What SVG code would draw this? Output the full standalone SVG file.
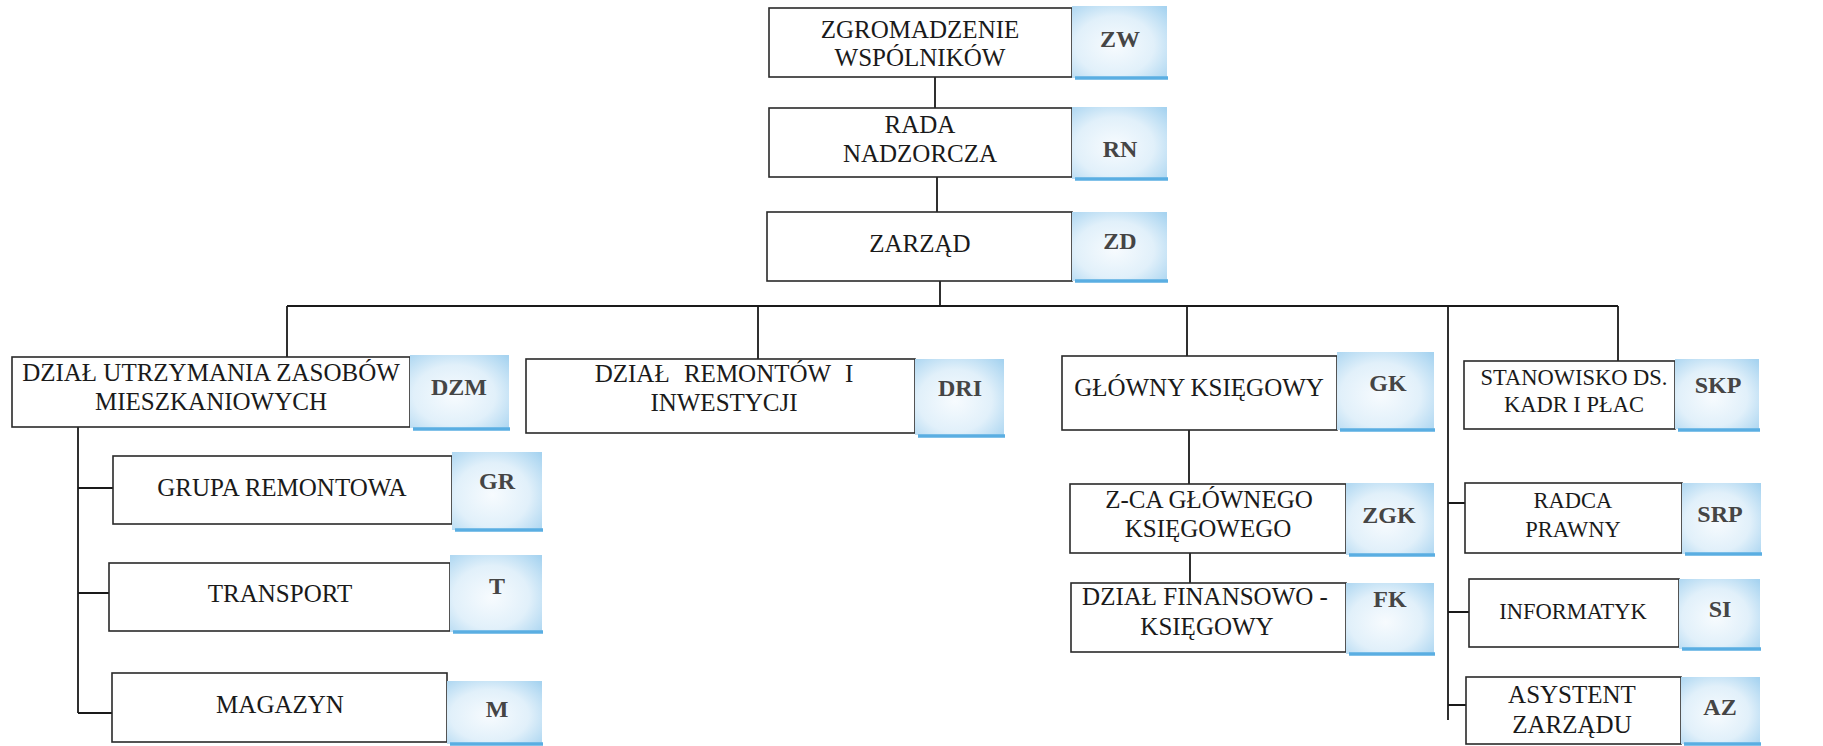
<svg xmlns="http://www.w3.org/2000/svg" width="1823" height="746" viewBox="0 0 1823 746">
<style>
.box{fill:#fff;stroke:#2a2a2a;stroke-width:1.6}
.code{fill:url(#cg)}
.bar{stroke:#5aaee2;stroke-width:3.5}
.t{font-family:"Liberation Serif","Times New Roman",serif;font-size:25px;fill:#1a1a1a;text-anchor:middle}
.s{font-size:22.5px}
.c{font-family:"Liberation Serif","Times New Roman",serif;font-size:24px;font-weight:bold;fill:#454545;text-anchor:middle}
.ln{stroke:#1a1a1a;stroke-width:1.8;fill:none}
</style>
<defs>
<radialGradient id="cg" cx="0.45" cy="0.55" r="0.75">
<stop offset="0" stop-color="#f7fbfe"/>
<stop offset="0.55" stop-color="#e1f0fa"/>
<stop offset="1" stop-color="#a6d3f0"/>
</radialGradient>
</defs>
<rect width="1823" height="746" fill="#fff"/>

<g id="connectors">
<path class="ln" d="M935 77V108M937 177V212M940 281V306"/>
<path class="ln" d="M287 306H1618"/>
<path class="ln" d="M287 306V357M758 306V359M1187 306V356M1618 306V361M1448 306V720"/>
<path class="ln" d="M78 427V713M78 488H113M78 593H109M78 713H112"/>
<path class="ln" d="M1189 430V484M1190 553V583"/>
<path class="ln" d="M1448 503H1465M1448 612H1469M1448 705H1466"/>
</g>

<g id="ZW">
<rect class="box" x="769" y="8" width="303" height="69"/>
<rect class="code" x="1072" y="6" width="95" height="72"/>
<line class="bar" x1="1075" y1="78" x2="1168" y2="78"/>
<text class="t" x="920" y="38">ZGROMADZENIE</text>
<text class="t" x="920" y="66">WSPÓLNIKÓW</text>
<text class="c" x="1120" y="47">ZW</text>
</g>

<g id="RN">
<rect class="box" x="769" y="108" width="303" height="69"/>
<rect class="code" x="1072" y="107" width="95" height="72"/>
<line class="bar" x1="1075" y1="179" x2="1168" y2="179"/>
<text class="t" x="920" y="133">RADA</text>
<text class="t" x="920" y="162">NADZORCZA</text>
<text class="c" x="1120" y="157">RN</text>
</g>

<g id="ZD">
<rect class="box" x="767" y="212" width="305" height="69"/>
<rect class="code" x="1072" y="212" width="95" height="69"/>
<line class="bar" x1="1075" y1="281" x2="1168" y2="281"/>
<text class="t" x="920" y="252">ZARZĄD</text>
<text class="c" x="1120" y="249">ZD</text>
</g>

<g id="DZM">
<rect class="box" x="12" y="357" width="398" height="70"/>
<rect class="code" x="410" y="355" width="99" height="73"/>
<line class="bar" x1="413" y1="429" x2="510" y2="429"/>
<text class="t" x="211" y="381">DZIAŁ UTRZYMANIA ZASOBÓW</text>
<text class="t" x="211" y="410">MIESZKANIOWYCH</text>
<text class="c" x="459" y="395">DZM</text>
</g>

<g id="DRI">
<rect class="box" x="526" y="359" width="389" height="74"/>
<rect class="code" x="915" y="359" width="89" height="76"/>
<line class="bar" x1="918" y1="436" x2="1005" y2="436"/>
<text class="t" x="724" y="382" word-spacing="8">DZIAŁ REMONTÓW I</text>
<text class="t" x="724" y="411">INWESTYCJI</text>
<text class="c" x="960" y="396">DRI</text>
</g>

<g id="GK">
<rect class="box" x="1062" y="356" width="275" height="74"/>
<rect class="code" x="1337" y="352" width="97" height="78"/>
<line class="bar" x1="1340" y1="430" x2="1435" y2="430"/>
<text class="t" x="1199" y="396">GŁÓWNY KSIĘGOWY</text>
<text class="c" x="1388" y="391">GK</text>
</g>

<g id="SKP">
<rect class="box" x="1464" y="361" width="211" height="68"/>
<rect class="code" x="1675" y="359" width="84" height="70"/>
<line class="bar" x1="1678" y1="430" x2="1760" y2="430"/>
<text class="t s" x="1574" y="385">STANOWISKO DS.</text>
<text class="t s" x="1574" y="412">KADR I PŁAC</text>
<text class="c" x="1718" y="393">SKP</text>
</g>

<g id="GR">
<rect class="box" x="113" y="456" width="339" height="68"/>
<rect class="code" x="452" y="452" width="90" height="78"/>
<line class="bar" x1="455" y1="530" x2="543" y2="530"/>
<text class="t" x="282" y="496">GRUPA REMONTOWA</text>
<text class="c" x="497" y="489">GR</text>
</g>

<g id="T">
<rect class="box" x="109" y="563" width="341" height="68"/>
<rect class="code" x="450" y="555" width="92" height="77"/>
<line class="bar" x1="453" y1="632" x2="543" y2="632"/>
<text class="t" x="280" y="602">TRANSPORT</text>
<text class="c" x="497" y="594">T</text>
</g>

<g id="M">
<rect class="box" x="112" y="673" width="335" height="69"/>
<rect class="code" x="447" y="681" width="95" height="63"/>
<line class="bar" x1="450" y1="744" x2="543" y2="744"/>
<text class="t" x="280" y="713">MAGAZYN</text>
<text class="c" x="497" y="717">M</text>
</g>

<g id="ZGK">
<rect class="box" x="1070" y="484" width="276" height="69"/>
<rect class="code" x="1346" y="483" width="88" height="72"/>
<line class="bar" x1="1349" y1="555" x2="1435" y2="555"/>
<text class="t" x="1209" y="508">Z-CA GŁÓWNEGO</text>
<text class="t" x="1208" y="537">KSIĘGOWEGO</text>
<text class="c" x="1389" y="523">ZGK</text>
</g>

<g id="FK">
<rect class="box" x="1071" y="583" width="275" height="69"/>
<rect class="code" x="1346" y="583" width="88" height="71"/>
<line class="bar" x1="1349" y1="654" x2="1435" y2="654"/>
<text class="t" x="1205" y="605">DZIAŁ FINANSOWO -</text>
<text class="t" x="1207" y="635">KSIĘGOWY</text>
<text class="c" x="1390" y="607">FK</text>
</g>

<g id="SRP">
<rect class="box" x="1465" y="483" width="217" height="70"/>
<rect class="code" x="1682" y="483" width="79" height="71"/>
<line class="bar" x1="1685" y1="554" x2="1762" y2="554"/>
<text class="t s" x="1573" y="508">RADCA</text>
<text class="t s" x="1573" y="537">PRAWNY</text>
<text class="c" x="1720" y="522">SRP</text>
</g>

<g id="SI">
<rect class="box" x="1469" y="579" width="210" height="68"/>
<rect class="code" x="1679" y="579" width="81" height="70"/>
<line class="bar" x1="1682" y1="649" x2="1761" y2="649"/>
<text class="t s" x="1573" y="619">INFORMATYK</text>
<text class="c" x="1720" y="617">SI</text>
</g>

<g id="AZ">
<rect class="box" x="1466" y="677" width="215" height="67"/>
<rect class="code" x="1681" y="677" width="79" height="67"/>
<line class="bar" x1="1684" y1="744" x2="1761" y2="744"/>
<text class="t" x="1572" y="703">ASYSTENT</text>
<text class="t" x="1572" y="733">ZARZĄDU</text>
<text class="c" x="1720" y="715">AZ</text>
</g>
</svg>
